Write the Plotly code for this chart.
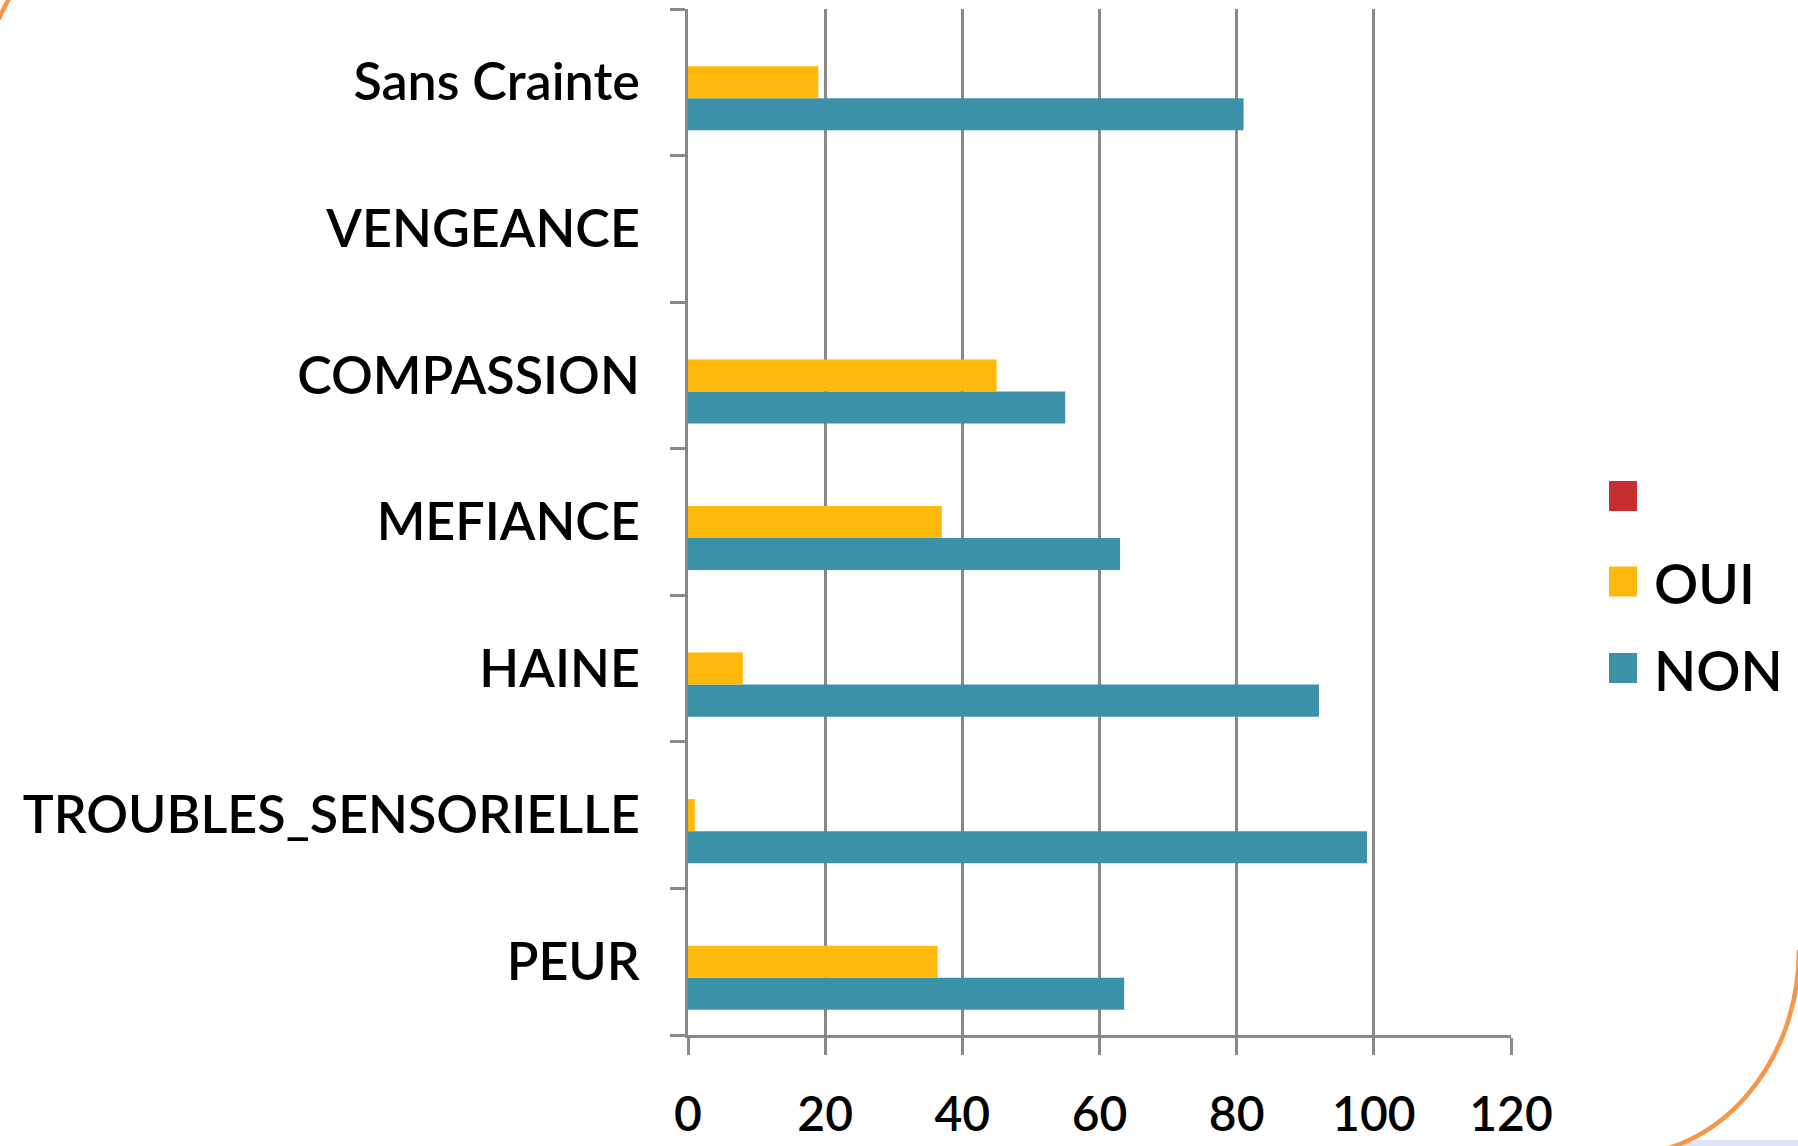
import plotly.graph_objects as go

# ---- data ----
categories = ["PEUR", "TROUBLES_SENSORIELLE", "HAINE", "MEFIANCE",
              "COMPASSION", "VENGEANCE", "Sans Crainte"]
non_values = [63.6, 99, 92, 63, 55, None, 81]
oui_values = [36.4, 1, 8, 37, 45, None, 19]
blank_values = [None, None, None, None, None, None, None]
series_names = ["NON", "OUI", " "]
x_ticks = [0, 20, 40, 60, 80, 100, 120]

# ---- style ----
W, H = 1798, 1146
ML, MR, MT, MB = 688, 287, 9, 111
FONT = "Lato, 'Open Sans', sans-serif"
WEIGHT = 600
GRID = "#888888"
colors = {"NON": "#3A91A8", "OUI": "#FFB80B", " ": "#C42E2E"}

fig = go.Figure()
for name, vals in zip(series_names, [non_values, oui_values, blank_values]):
    fig.add_trace(go.Bar(
        y=categories, x=vals, name=name, orientation="h",
        marker=dict(color=colors[name], line=dict(width=0)),
        showlegend=False,
    ))

pw = W - ML - MR
ph = H - MT - MB


def px(x):
    return (x - ML) / pw


def py(y):
    return (H - MB - y) / ph


def path(points):
    (x0, y0), (x1, y1), (x2, y2), (x3, y3) = points
    return (f"M{px(x0)},{py(y0)} C{px(x1)},{py(y1)} "
            f"{px(x2)},{py(y2)} {px(x3)},{py(y3)}")


shapes = [
    dict(type="rect", xref="paper", yref="paper",
         x0=px(1683), x1=px(1805), y0=py(1140), y1=py(1150),
         fillcolor="#DEE5F2", line=dict(width=0), layer="below"),
    dict(type="path", xref="paper", yref="paper",
         path=path([(1799, 950), (1799, 1063.8), (1718.9, 1156), (1620, 1156)]),
         line=dict(color="#F7964A", width=4.5)),
    dict(type="path", xref="paper", yref="paper",
         path=path([(9, -2), (6, 5), (2, 11), (-1, 19)]),
         line=dict(color="#F7964A", width=4.5)),
]

# manual legend (large square markers like the original)
annotations = []
legend_order = [" ", "OUI", "NON"]
legend_y = [496, 581.5, 668]
for name, yc in zip(legend_order, legend_y):
    shapes.append(dict(type="rect", xref="paper", yref="paper",
                       x0=px(1609), x1=px(1637), y0=py(yc + 15), y1=py(yc - 15),
                       fillcolor=colors[name], line=dict(width=0)))
    annotations.append(dict(xref="paper", yref="paper", x=px(1652), y=py(yc + 2),
                            xanchor="left", yanchor="middle", text=name,
                            showarrow=False,
                            font=dict(size=55, color="black", weight=WEIGHT)))

fig.update_layout(
    width=W, height=H,
    margin=dict(l=ML, r=MR, t=MT, b=MB, autoexpand=False),
    paper_bgcolor="white", plot_bgcolor="white",
    barmode="group", bargap=0.344, bargroupgap=0,
    font=dict(family=FONT, color="black", size=52, weight=WEIGHT),
    showlegend=False,
    shapes=shapes, annotations=annotations,
)
fig.update_xaxes(
    range=[0, 120], tickvals=x_ticks, ticktext=[str(v) for v in x_ticks],
    showgrid=True, gridcolor=GRID, gridwidth=2.5,
    showline=True, linecolor=GRID, linewidth=2.5,
    ticks="outside", ticklen=17, tickwidth=2.5, tickcolor=GRID,
    tickfont=dict(size=48, weight=WEIGHT), automargin=False,
    ticklabelstandoff=19, zeroline=False,
)
fig.update_yaxes(
    type="category", categoryorder="array", categoryarray=categories,
    tickvals=categories, ticktext=categories, tickson="boundaries",
    showgrid=False, showline=True, linecolor=GRID, linewidth=2.5,
    ticks="outside", ticklen=15, tickwidth=2.5, tickcolor=GRID,
    tickfont=dict(size=52, weight=WEIGHT), ticklabelstandoff=35, automargin=False,
)

fig.write_html("out.html", config={"displayModeBar": False},
               post_script="document.body.style.margin='0';")
